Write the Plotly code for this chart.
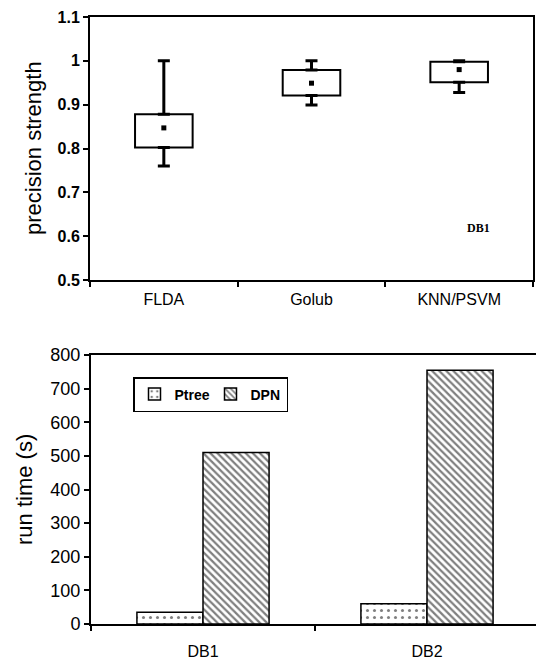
import plotly.graph_objects as go

# --- top chart data (box summary) ---
methods = ["FLDA", "Golub", "KNN/PSVM"]
whisker_hi = [1.0, 1.0, 1.0]
q3 = [0.878, 0.979, 0.998]
mean_val = [0.847, 0.949, 0.980]
q1 = [0.802, 0.921, 0.951]
whisker_lo = [0.760, 0.899, 0.928]
top_yticks = [0.5, 0.6, 0.7, 0.8, 0.9, 1.0, 1.1]
top_yticklabels = ["0.5", "0.6", "0.7", "0.8", "0.9", "1", "1.1"]

# --- bottom chart data ---
datasets = ["DB1", "DB2"]
ptree = [35, 60]
dpn = [510, 755]
bottom_yticks = [0, 100, 200, 300, 400, 500, 600, 700, 800]

W, H = 536, 661
def px_x(p):
    return p / W
def px_y(p):
    return (H - p) / H

fig = go.Figure()

# boxes as floating bars
fig.add_trace(go.Bar(
    x=methods, base=q1, y=[a - b for a, b in zip(q3, q1)],
    width=0.39, offset=-0.195,
    marker=dict(color="white", line=dict(color="black", width=2)),
    xaxis="x", yaxis="y", showlegend=False, hoverinfo="skip"))
# upper whiskers
fig.add_trace(go.Scatter(
    x=methods, y=q3, mode="markers",
    marker=dict(size=1, color="rgba(0,0,0,0)"),
    error_y=dict(type="data", symmetric=False,
                 array=[h - t for h, t in zip(whisker_hi, q3)],
                 arrayminus=[0, 0, 0], color="black", thickness=3, width=6),
    xaxis="x", yaxis="y", showlegend=False, hoverinfo="skip"))
# lower whiskers
fig.add_trace(go.Scatter(
    x=methods, y=q1, mode="markers",
    marker=dict(size=1, color="rgba(0,0,0,0)"),
    error_y=dict(type="data", symmetric=False,
                 array=[0, 0, 0],
                 arrayminus=[b - l for b, l in zip(q1, whisker_lo)],
                 color="black", thickness=3, width=6),
    xaxis="x", yaxis="y", showlegend=False, hoverinfo="skip"))
# mean dots
fig.add_trace(go.Scatter(
    x=methods, y=mean_val, mode="markers",
    marker=dict(symbol="square", size=5, color="black"),
    xaxis="x", yaxis="y", showlegend=False, hoverinfo="skip"))

# bottom bars
fig.add_trace(go.Bar(
    x=datasets, y=ptree, name="Ptree",
    marker=dict(color="white", line=dict(color="black", width=1.5),
                pattern=dict(shape=".", fgcolor="black", bgcolor="white",
                             size=7, solidity=0.15)),
    xaxis="x2", yaxis="y2"))
fig.add_trace(go.Bar(
    x=datasets, y=dpn, name="DPN",
    marker=dict(color="white", line=dict(color="black", width=1.5),
                pattern=dict(shape="\\", fgcolor="black", bgcolor="white",
                             size=5, solidity=0.45)),
    xaxis="x2", yaxis="y2"))

font_main = "Liberation Sans, Arial, sans-serif"

fig.update_layout(
    width=W, height=H,
    margin=dict(l=0, r=0, t=0, b=0, autoexpand=False),
    paper_bgcolor="white", plot_bgcolor="white",
    barmode="group", bargap=0.41, bargroupgap=0,
    font=dict(family=font_main, color="black"),
    xaxis=dict(domain=[px_x(90), px_x(533)], anchor="y",
               type="category", range=[-0.5, 2.5],
               showline=True, linecolor="black", linewidth=2, mirror=True,
               ticks="outside", tickson="boundaries", ticklen=5,
               tickcolor="black", tickwidth=1.5,
               tickfont=dict(size=16, family=font_main),
               ticklabelstandoff=4,
               showgrid=False, zeroline=False),
    yaxis=dict(domain=[px_y(280), px_y(17)], anchor="x",
               range=[0.5, 1.1], tickvals=top_yticks, ticktext=top_yticklabels,
               showline=True, linecolor="black", linewidth=2, mirror=True,
               ticks="outside", ticklen=5, tickcolor="black", tickwidth=1.5,
               tickfont=dict(size=16, family="Liberation Sans Narrow, Arial Narrow, Liberation Sans", weight="bold"),
               showgrid=False, zeroline=False),
    xaxis2=dict(domain=[px_x(91), 1.0], anchor="y2",
                type="category", range=[-0.5, 1.4866],
                showline=True, linecolor="black", linewidth=2, mirror=True,
                ticks="outside", tickson="boundaries", ticklen=5,
                tickcolor="black", tickwidth=1.5,
                tickfont=dict(size=16, family=font_main),
                ticklabelstandoff=12,
                showgrid=False, zeroline=False),
    yaxis2=dict(domain=[px_y(624), px_y(355)], anchor="x2",
                range=[0, 800], tickvals=bottom_yticks,
                showline=True, linecolor="black", linewidth=2,
                ticks="outside", ticklen=5, tickcolor="black", tickwidth=1.5,
                tickfont=dict(size=18, family=font_main),
                showgrid=False, zeroline=False),
    legend=dict(orientation="h", x=px_x(133), y=px_y(377),
                xanchor="left", yanchor="top",
                bordercolor="black", borderwidth=1.5, bgcolor="white",
                font=dict(size=14, family=font_main, weight="bold"),
                itemwidth=30, entrywidthmode="pixels", entrywidth=31),
    annotations=[
        dict(text="precision strength", xref="paper", yref="paper",
             x=px_x(34), y=px_y(148), textangle=-90, showarrow=False,
             font=dict(size=22, family=font_main),
             xanchor="center", yanchor="middle"),
        dict(text="run time (s)", xref="paper", yref="paper",
             x=px_x(24), y=px_y(490), textangle=-90, showarrow=False,
             font=dict(size=22, family=font_main),
             xanchor="center", yanchor="middle"),
        dict(text="<b>DB1</b>", xref="paper", yref="paper",
             x=px_x(478), y=px_y(228), showarrow=False,
             font=dict(size=12, family="Liberation Serif, Times New Roman, serif"),
             xanchor="center", yanchor="middle"),
    ],
)

fig.write_html("out.html",
               config={"displayModeBar": False},
               post_script="document.body.style.margin='0';document.body.style.overflow='hidden';")
